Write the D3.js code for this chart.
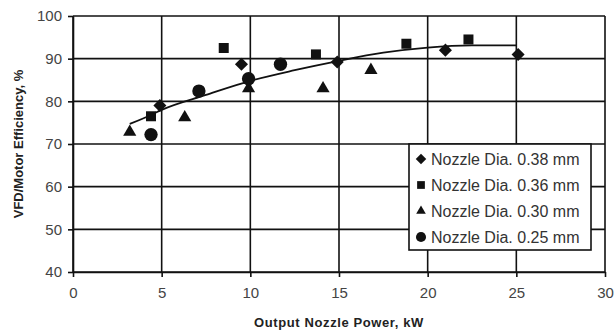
<!DOCTYPE html>
<html>
<head>
<meta charset="utf-8">
<script src="https://cdn.jsdelivr.net/npm/d3@7"></script>
<style>
  body { margin: 0; background: #fff; }
  svg { font-family: "Liberation Sans", Arial, sans-serif; }
</style>
</head>
<body>
<svg id="CHART" width="614" height="335"></svg>
<script>
// nozzle series (output power kW, efficiency %)
const d38x = [4.9, 9.5, 14.9, 21.0, 25.1];
const d38y = [79.0, 88.7, 89.2, 92.0, 91.0];
const d36x = [4.4, 8.5, 13.7, 18.8, 22.3];
const d36y = [76.5, 92.5, 91.0, 93.5, 94.5];
const d30x = [3.2, 6.3, 9.9, 14.1, 16.8];
const d30y = [72.8, 76.2, 83.0, 83.0, 87.3];
const d25x = [4.4, 7.1, 9.9, 11.7];
const d25y = [72.2, 82.4, 85.3, 88.7];
// trend line
const trendX = [3.2, 4.4, 5, 7.5, 10, 12.5, 15, 17.5, 20, 22.5, 25];
const trendY = [74.7, 76.8, 78.0, 81.5, 84.8, 87.3, 89.5, 91.4, 92.6, 93.1, 93.1];

const xTicks = [0, 5, 10, 15, 20, 25, 30];
const yTicks = [40, 50, 60, 70, 80, 90, 100];
const legendLabels = ["Nozzle Dia. 0.38 mm", "Nozzle Dia. 0.36 mm", "Nozzle Dia. 0.30 mm", "Nozzle Dia. 0.25 mm"];

const margin = { left: 73, right: 9, top: 16, bottom: 63 };
const width = 614;
const height = 335;

const x = d3.scaleLinear().domain([0, 30]).range([margin.left, width - margin.right]);
const y = d3.scaleLinear().domain([40, 100]).range([height - margin.bottom, margin.top]);

const svg = d3.select("#CHART");

// grid
const grid = svg.append("g").attr("stroke", "#111").attr("stroke-width", 1.6);
grid.selectAll(".gx").data(xTicks).join("line")
  .attr("x1", (d) => x(d)).attr("x2", (d) => x(d))
  .attr("y1", y(40)).attr("y2", y(100));
grid.selectAll(".gy").data(yTicks).join("line")
  .attr("x1", x(0)).attr("x2", x(30))
  .attr("y1", (d) => y(d)).attr("y2", (d) => y(d));

// axes
const xAxis = svg.append("g")
  .attr("transform", `translate(0,${y(40)})`)
  .call(d3.axisBottom(x).tickValues(xTicks).tickSize(5).tickPadding(10).tickSizeOuter(0));
const yAxis = svg.append("g")
  .attr("transform", `translate(${x(0)},0)`)
  .call(d3.axisLeft(y).tickValues(yTicks).tickSize(5).tickPadding(6).tickSizeOuter(0));
[xAxis, yAxis].forEach((a) => {
  a.select(".domain").attr("stroke", "#111").attr("stroke-width", 1.6);
  a.selectAll(".tick line").attr("stroke", "#111").attr("stroke-width", 1.6);
  a.selectAll("text")
    .attr("fill", "#444")
    .style("font-size", "15px")
    .style("font-family", "'Liberation Sans', Arial, sans-serif");
});

// axis titles
svg.append("text")
  .attr("x", (x(0) + x(30)) / 2 + 0).attr("y", 327)
  .attr("text-anchor", "middle")
  .style("font-size", "13px").style("font-weight", 700).attr("fill", "#222")
  .style("letter-spacing", "0.6px")
  .text("Output Nozzle Power, kW");
svg.append("text")
  .attr("transform", `translate(23,${(y(40) + y(100)) / 2}) rotate(-90)`)
  .attr("text-anchor", "middle")
  .style("font-size", "13px").style("font-weight", 700).attr("fill", "#222")
  .text("VFD/Motor Efficiency, %");

// trend line
const trend = trendX.map((d, i) => [d, trendY[i]]);
svg.append("path")
  .datum(trend)
  .attr("fill", "none").attr("stroke", "#111").attr("stroke-width", 1.8)
  .attr("d", d3.line().x((d) => x(d[0])).y((d) => y(d[1])).curve(d3.curveMonotoneX));

// markers (diamond = square turned 45 degrees)
const series = [
  { xs: d38x, ys: d38y, type: d3.symbolSquare, size: 85, rot: 45 },
  { xs: d36x, ys: d36y, type: d3.symbolSquare, size: 100, rot: 0 },
  { xs: d30x, ys: d30y, type: d3.symbolTriangle, size: 75, rot: 0 },
  { xs: d25x, ys: d25y, type: d3.symbolCircle, size: 140, rot: 0 },
];
series.forEach((s) => {
  svg.append("g").selectAll("path")
    .data(s.xs.map((d, i) => [d, s.ys[i]]))
    .join("path")
    .attr("transform", (d) => `translate(${x(d[0])},${y(d[1])}) rotate(${s.rot})`)
    .attr("d", d3.symbol().type(s.type).size(s.size))
    .attr("fill", "#111");
});

// legend
const lg = svg.append("g").attr("transform", "translate(409,144)");
lg.append("rect")
  .attr("width", 182).attr("height", 106)
  .attr("fill", "#fff").attr("stroke", "#111").attr("stroke-width", 1.6);
const sizes = [55, 60, 40, 80];
legendLabels.forEach((label, i) => {
  const row = lg.append("g").attr("transform", `translate(0,${15 + i * 26})`);
  row.append("path")
    .attr("transform", `translate(12,0) rotate(${series[i].rot})`)
    .attr("d", d3.symbol().type(series[i].type).size(sizes[i]))
    .attr("fill", "#111");
  row.append("text")
    .attr("x", 22).attr("y", 5.5)
    .style("font-size", "16px").attr("fill", "#333")
    .text(label);
});
</script>
</body>
</html>
